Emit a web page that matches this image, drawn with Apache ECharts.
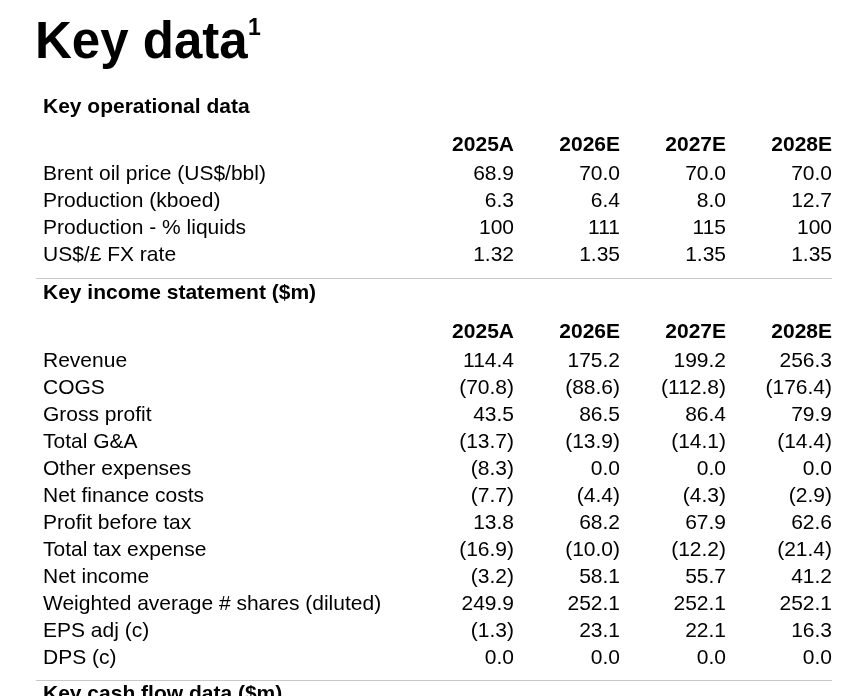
<!DOCTYPE html>
<html><head><meta charset="utf-8">
<script src="https://cdn.jsdelivr.net/npm/echarts@6/dist/echarts.min.js"></script>
<style>html,body{margin:0;padding:0;background:#fff}#c{width:854px;height:696px}</style>
</head><body><div id="c"></div>
<script>
// ---- data ----
const years = ['2025A', '2026E', '2027E', '2028E'];

const opRows = ['Brent oil price (US$/bbl)', 'Production (kboed)', 'Production - % liquids', 'US$/£ FX rate'];
const brentPrice = [68.9, 70.0, 70.0, 70.0];
const production = [6.3, 6.4, 8.0, 12.7];
const liquidsPct = [100, 111, 115, 100];
const fxRate = [1.32, 1.35, 1.35, 1.35];
const opDecimals = [1, 1, 0, 2];

const incRows = ['Revenue', 'COGS', 'Gross profit', 'Total G&A', 'Other expenses', 'Net finance costs',
  'Profit before tax', 'Total tax expense', 'Net income', 'Weighted average # shares (diluted)', 'EPS adj (c)', 'DPS (c)'];
const revenue = [114.4, 175.2, 199.2, 256.3];
const cogs = [-70.8, -88.6, -112.8, -176.4];
const grossProfit = [43.5, 86.5, 86.4, 79.9];
const totalGA = [-13.7, -13.9, -14.1, -14.4];
const otherExpenses = [-8.3, 0.0, 0.0, 0.0];
const netFinance = [-7.7, -4.4, -4.3, -2.9];
const profitBeforeTax = [13.8, 68.2, 67.9, 62.6];
const taxExpense = [-16.9, -10.0, -12.2, -21.4];
const netIncome = [-3.2, 58.1, 55.7, 41.2];
const sharesDiluted = [249.9, 252.1, 252.1, 252.1];
const epsAdj = [-1.3, 23.1, 22.1, 16.3];
const dps = [0.0, 0.0, 0.0, 0.0];
const incDecimals = [1, 1, 1, 1, 1, 1, 1, 1, 1, 1, 1, 1];

// ---- build ----
const FONT = '"Liberation Sans", Arial, Helvetica, sans-serif';
const opValues = [brentPrice, production, liquidsPct, fxRate];
const incValues = [revenue, cogs, grossProfit, totalGA, otherExpenses, netFinance,
  profitBeforeTax, taxExpense, netIncome, sharesDiluted, epsAdj, dps];

function fmt(v, d) {
  return v < 0 ? '(' + Math.abs(v).toFixed(d) + ')' : v.toFixed(d);
}
function cells(values) {
  const out = [];
  values.forEach((row, r) => row.forEach((v, c) => out.push([c, r, v])));
  return out;
}
function xAx(gi) {
  return {
    type: 'category', gridIndex: gi, data: years, boundaryGap: false, position: 'top',
    axisLine: { show: false }, axisTick: { show: false }, splitLine: { show: false },
    axisLabel: { interval: 0, align: 'right', margin: 5, fontWeight: 'bold', fontSize: 21,
      color: '#000', fontFamily: FONT }
  };
}
function yAx(gi, rows) {
  return {
    type: 'category', gridIndex: gi, data: rows, inverse: true,
    axisLine: { show: false }, axisTick: { show: false }, splitLine: { show: false },
    axisLabel: { interval: 0, align: 'left', margin: 471, fontSize: 21, color: '#000', fontFamily: FONT }
  };
}
function cellSeries(gi, values, decimals) {
  return {
    type: 'scatter', xAxisIndex: gi, yAxisIndex: gi, data: cells(values),
    symbolSize: 0, itemStyle: { color: '#fff', opacity: 1 }, silent: true,
    emphasis: { disabled: true },
    label: {
      show: true, position: 'left', distance: 0, fontSize: 21, color: '#000', opacity: 1, fontFamily: FONT,
      formatter: p => fmt(p.value[2], decimals[p.value[1]])
    }
  };
}
const titleStyle = (size, lh) => ({ fontSize: size, fontWeight: 'bold', color: '#000', fontFamily: FONT, lineHeight: lh });

const chart = echarts.init(document.getElementById('c'), null, { renderer: 'canvas' });
chart.setOption({
  animation: false,
  backgroundColor: '#fff',
  title: [
    { text: 'Key data', left: 35, top: 18, padding: 0, textStyle: titleStyle(51, 51) },
    { text: '1', left: 248, top: 17, padding: 0, textStyle: titleStyle(23, 23) },
    { text: 'Key operational data', left: 43, top: 96.5, padding: 0, textStyle: titleStyle(21, 21) },
    { text: 'Key income statement ($m)', left: 43, top: 282.5, padding: 0, textStyle: titleStyle(21, 21) },
    { text: 'Key cash flow data ($m)', left: 43, top: 684, padding: 0, textStyle: titleStyle(21, 21) }
  ],
  grid: [
    { left: 514, right: 22, top: 161, height: 108 },
    { left: 514, right: 22, top: 348, height: 324 }
  ],
  xAxis: [xAx(0), xAx(1)],
  yAxis: [yAx(0, opRows), yAx(1, incRows)],
  series: [cellSeries(0, opValues, opDecimals), cellSeries(1, incValues, incDecimals)],
  graphic: [
    { type: 'line', silent: true, shape: { x1: 36, y1: 278.5, x2: 832, y2: 278.5 }, style: { stroke: '#c8c8c8', lineWidth: 1 } },
    { type: 'line', silent: true, shape: { x1: 36, y1: 680.5, x2: 832, y2: 680.5 }, style: { stroke: '#c8c8c8', lineWidth: 1 } }
  ]
});
</script>
</body></html>
